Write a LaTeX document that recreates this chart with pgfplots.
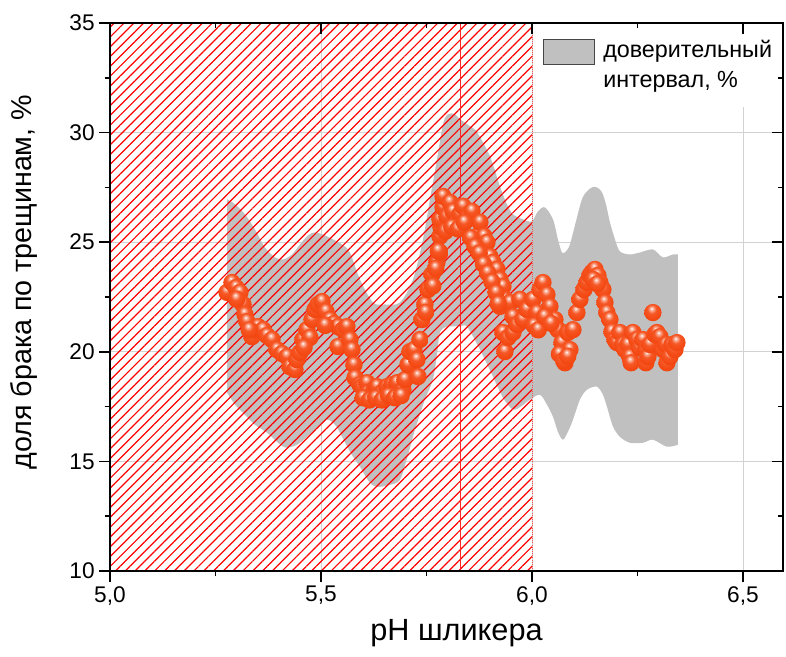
\documentclass[border=0pt]{standalone}
\usepackage{pgfplots}
\pgfplotsset{compat=1.18}
\usepgfplotslibrary{fillbetween}
\usetikzlibrary{patterns.meta}
\usepackage{fontspec}
\setmainfont{Liberation Sans}
\definecolor{bandgray}{RGB}{192,192,192}
\definecolor{ballc}{RGB}{244,72,18}
\pgfdeclareradialshading{myball}{\pgfpoint{-4bp}{12bp}}{%
  color(0bp)=(white); color(5bp)=(white!55!ballc); color(13bp)=(ballc!92!white);
  color(26bp)=(ballc); color(50bp)=(ballc!88!black); color(70bp)=(ballc!78!black)}
\pgfdeclareplotmark{myball}{%
  \pgfpathcircle{\pgfpointorigin}{\pgfplotmarksize}%
  \pgfshadepath{myball}{0}%
  \pgfusepath{}}

\begin{document}
\begin{tikzpicture}
\pgfplotsset{
  common/.style={
    scale only axis, width=504.75pt, height=411pt,
    xmin=5, xmax=6.595, ymin=10, ymax=35,
    xtick={5,5.5,6,6.5}, ytick={10,15,20,25,30,35},
    minor x tick num=1, minor y tick num=1,
    major tick length=8pt, minor tick length=4pt,
    axis line style={line width=1.1pt},
    every tick/.style={black, line width=1.1pt},
    /pgf/number format/assume math mode=true,
  }
}
\begin{axis}[common,
  tick align=outside, xtick pos=left, ytick pos=left,
  grid=major, major grid style={gray!35, line width=0.5pt},
  ticklabel style={font=\fontsize{17}{19}\selectfont},
  xticklabel style={/pgf/number format/.cd, fixed, fixed zerofill, precision=1, use comma},
  xlabel={pH шликера}, ylabel={доля брака по трещинам, \%},
  xlabel style={font=\fontsize{23}{27}\selectfont, xshift=7.5pt},
  ylabel style={font=\fontsize{21.5}{26}\selectfont, at={(ticklabel cs:0.527)}},
  ylabel shift=17pt, xlabel shift=4pt,
  legend style={at={(1,1)}, anchor=north east, draw=none, fill=white,
    font=\fontsize{17.5}{22.5}\selectfont, inner xsep=6pt, inner ysep=11pt,
    nodes={align=left}},
  legend cell align=left,
]
\addplot[name path=upper, draw=none, smooth, forget plot] coordinates {
(5.2773,26.96)(5.2962,26.73)(5.3199,26.27)(5.3436,25.58)(5.3673,24.76)(5.3910,24.31)
(5.4100,24.21)(5.4313,24.44)(5.4502,24.90)(5.4692,25.31)(5.4858,25.45)(5.5095,25.31)
(5.5284,25.13)(5.5498,24.90)(5.5687,24.53)(5.5924,23.30)(5.6232,22.25)(5.6517,22.16)
(5.6872,22.25)(5.7180,23.30)(5.7417,25.13)(5.7583,26.96)(5.7749,28.78)(5.7891,30.38)
(5.8009,30.84)(5.8175,30.84)(5.8294,30.61)(5.8531,30.29)(5.8697,30.02)(5.9005,28.92)
(5.9242,27.55)(5.9408,26.73)(5.9550,26.27)(5.9787,26.04)(6.0000,25.95)(6.0142,26.41)
(6.0308,26.59)(6.0498,26.04)(6.0616,25.13)(6.0711,24.53)(6.0806,24.58)(6.0900,24.90)
(6.1043,25.95)(6.1185,26.96)(6.1303,27.32)(6.1422,27.50)(6.1540,27.50)(6.1659,27.28)
(6.1754,26.73)(6.1848,25.91)(6.1967,25.13)(6.2085,24.58)(6.2322,24.44)(6.2559,24.53)
(6.2867,24.67)(6.3104,24.31)(6.3341,24.44)(6.3460,24.44)};
\addplot[name path=lower, draw=none, smooth, forget plot] coordinates {
(5.2773,18.14)(5.2962,17.59)(5.3152,17.22)(5.3436,16.67)(5.3720,16.31)(5.4100,15.67)
(5.4313,15.67)(5.4502,15.85)(5.4858,16.44)(5.5142,16.90)(5.5332,16.67)(5.5450,16.31)
(5.5687,15.44)(5.5924,14.75)(5.6161,14.02)(5.6351,13.84)(5.6635,13.93)(5.6872,14.16)
(5.7062,15.30)(5.7227,16.44)(5.7464,17.82)(5.7654,18.73)(5.7749,19.87)(5.7820,20.88)
(5.7986,21.15)(5.8294,21.15)(5.8460,21.15)(5.8768,20.10)(5.9076,18.87)(5.9313,17.91)
(5.9550,17.36)(5.9763,17.54)(5.9953,17.82)(6.0190,18.04)(6.0355,17.59)(6.0498,17.04)
(6.0616,16.35)(6.0735,15.99)(6.0853,16.35)(6.0972,16.90)(6.1137,17.82)(6.1303,18.27)
(6.1540,18.41)(6.1682,18.04)(6.1777,17.50)(6.1919,16.60)(6.2085,16.12)(6.2322,15.85)
(6.2630,15.85)(6.2867,15.99)(6.3199,15.67)(6.3460,15.76)};
\addplot[fill=bandgray, draw=none,
  legend image code/.code={\draw[draw=gray!55!black, fill=bandgray, line width=0.6pt] (0pt,0.8pt) rectangle (38.25pt,19.5pt); \path (43pt,0pt);}]
  fill between[of=upper and lower];
\addlegendentry{доверительный\\интервал, \%}

\addplot[only marks, mark=myball, mark size=6.5pt, forget plot] coordinates {
(5.2773,22.71)(5.2891,23.16)(5.2986,22.93)(5.3081,22.71)(5.3152,22.16)(5.3199,21.70)
(5.3246,21.38)(5.3365,20.69)(5.3436,21.01)(5.3507,21.15)(5.3626,21.01)(5.3720,20.74)
(5.3839,20.56)(5.3957,20.10)(5.4076,19.92)(5.4194,19.78)(5.4265,19.32)(5.4384,19.19)
(5.4431,19.64)(5.4502,19.96)(5.4573,20.56)(5.4668,21.01)(5.4739,20.65)(5.4787,21.47)
(5.4858,21.93)(5.4929,22.16)(5.5024,22.29)(5.5118,21.84)(5.5213,21.47)(5.5308,21.29)
(5.5403,21.15)(5.5403,20.24)(5.5521,21.01)(5.5616,21.15)(5.5687,20.56)(5.5735,20.10)
(5.5782,19.41)(5.5806,18.82)(5.5924,18.50)(5.5972,18.41)(5.6090,18.59)(5.6114,18.14)
(5.6161,17.95)(5.6256,18.27)(5.6327,18.41)(5.6445,18.14)(5.6564,18.41)(5.6682,18.50)
(5.6801,18.59)(5.6872,18.14)(5.6943,18.27)(5.6991,18.73)(5.7062,19.41)(5.7109,20.01)
(5.7204,20.10)(5.7275,19.64)(5.7299,18.87)(5.7346,20.56)(5.7393,21.47)(5.7464,22.16)
(5.7536,22.84)(5.7630,23.53)(5.7749,24.08)(5.7820,24.53)(5.7820,25.27)(5.7844,25.68)
(5.7820,26.04)(5.7891,26.59)(5.7891,27.09)(5.7986,26.18)(5.8057,26.82)(5.8128,26.41)
(5.8223,25.91)(5.8294,26.27)(5.8365,26.64)(5.8483,26.18)(5.8578,26.41)(5.8697,25.27)
(5.8768,25.91)(5.8863,25.27)(5.8934,24.99)(5.9005,24.35)(5.9076,24.08)(5.9171,23.76)
(5.9242,23.30)(5.9313,22.98)(5.9242,22.07)(5.9360,22.39)(5.9479,22.25)(5.9550,21.61)
(5.9313,20.88)(5.9360,20.01)(5.9431,20.65)(5.9550,20.88)(5.9645,21.24)(5.9716,22.39)
(5.9787,21.47)(5.9882,21.93)(6.0024,22.39)(6.0118,21.79)(6.0190,22.84)(6.0261,23.16)
(6.0355,22.61)(6.0427,22.07)(6.0545,21.47)(6.0616,21.01)(6.0711,20.42)(6.0782,19.78)
(6.0853,20.88)(6.0900,20.10)(6.0782,19.50)(6.0972,21.01)(6.1066,21.79)(6.1137,22.39)
(6.1232,22.84)(6.1303,23.16)(6.1374,23.48)(6.1422,23.62)(6.1493,23.76)(6.1564,23.48)
(6.1611,23.16)(6.1682,22.84)(6.1730,22.25)(6.1777,21.79)(6.1848,21.47)(6.1896,20.92)
(6.1967,20.56)(6.2014,20.42)(6.2085,20.88)(6.2156,20.33)(6.2204,20.10)(6.2275,20.33)
(6.2322,19.78)(6.2350,19.50)(6.2393,20.88)(6.2488,20.56)(6.2559,20.19)(6.2630,20.56)
(6.2701,20.10)(6.2700,19.50)(6.2749,19.78)(6.2796,20.33)(6.2867,21.79)(6.2915,20.79)
(6.2962,20.88)(6.3033,20.69)(6.3104,20.10)(6.3175,20.33)(6.3200,19.50)(6.3270,19.78)
(6.3318,20.33)(6.3389,20.10)(6.3436,20.42)
(5.7650,23.00)(5.7720,23.80)(5.7780,24.60)(5.7950,25.50)(5.8100,25.70)(5.8250,25.60)
(5.8400,25.90)(5.8550,25.20)(5.8650,24.80)(5.8750,24.50)(5.8850,24.00)(5.8950,23.60)
(5.9050,23.20)(5.9150,22.70)(5.9200,22.20)(5.6000,17.90)(5.6150,17.80)(5.6300,17.90)
(5.6450,17.80)(5.6600,18.00)(5.6750,17.90)(5.6900,18.00)(6.0050,21.20)(6.0150,21.00)
(6.0300,21.60)(6.0450,21.30)(6.0650,19.90)(6.0750,19.60)(6.0850,19.80)(6.1450,23.30)
(6.1550,23.10)(5.3000,22.40)(5.3300,21.00)(5.4600,20.20)(5.5100,21.20)(5.7480,21.80)};

\addplot[draw=none, pattern={Lines[angle=45, distance=5.2pt, line width=0.9pt]},
  pattern color=red, forget plot] coordinates {(5,10)(5,35)(6,35)(6,10)} \closedcycle;
\addplot[red!70, densely dotted, line width=0.6pt, forget plot] coordinates {(6,10)(6,35)};
\addplot[red!85, line width=0.6pt, forget plot] coordinates {(5.83,10)(5.83,35)};
\end{axis}
\begin{axis}[common,
  tick align=inside, xtick pos=right, ytick pos=right,
  xticklabels={}, yticklabels={},
]
\end{axis}
\pgfresetboundingbox
\path ([shift={(-82.5pt,-64.5pt)}]current axis.south west) rectangle ([shift={(2.25pt,17.25pt)}]current axis.north east);
\end{tikzpicture}
\end{document}
